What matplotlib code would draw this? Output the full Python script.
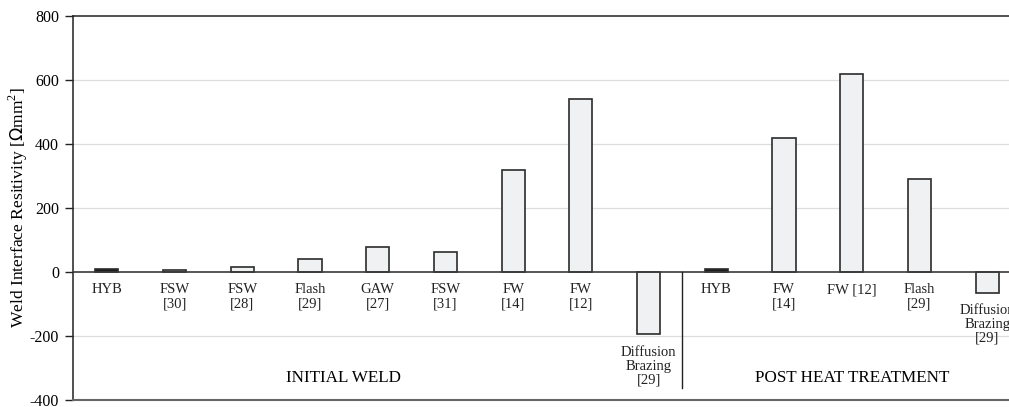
import numpy as np
import matplotlib.pyplot as plt

plt.rcParams['font.family'] = ['Liberation Serif', 'DejaVu Serif']
plt.rcParams['axes.unicode_minus'] = False

# Resistivity per weld method, initial weld then after heat treatment
labels_initial = ['HYB', 'FSW\n[30]', 'FSW\n[28]', 'Flash\n[29]', 'GAW\n[27]',
                  'FSW\n[31]', 'FW\n[14]', 'FW\n[12]', 'Diffusion\nBrazing\n[29]']
values_initial = [10, 5, 17, 40, 77, 62, 320, 540, -195]

labels_post = ['HYB', 'FW\n[14]', 'FW [12]', 'Flash\n[29]', 'Diffusion\nBrazing\n[29]']
values_post = [10, 420, 620, 290, -65]

group_names = ['INITIAL WELD', 'POST HEAT TREATMENT']

labels = labels_initial + labels_post
values = values_initial + values_post
x = np.arange(len(values))

# HYB bars are drawn solid
faces = ['#1c1c1c' if l == 'HYB' else '#f0f1f3' for l in labels]

fig = plt.figure(figsize=(10.09, 4.07), dpi=100)
ax = fig.add_axes([73 / 1009, 7 / 407, 948 / 1009, 384 / 407])

ax.bar(x, values, width=0.34, color=faces, edgecolor='#2b2b2b', linewidth=1.2, zorder=3)

ax.set_xlim(-0.5, len(values) - 0.5)
ax.set_ylim(-400, 800)
ax.set_yticks(range(-400, 801, 200))
for g in [-200, 200, 400, 600]:
    ax.axhline(g, color='#dddddd', linewidth=0.9, zorder=1)
ax.axhline(0, color='#3a3a3a', linewidth=1.2, zorder=4)

ax.set_xticks([])
ax.tick_params(axis='y', labelsize=11.5, length=6, width=1, color='#222222', pad=4)
ax.set_ylabel('Weld Interface Resitivity [$\\Omega$mm$^\\mathregular{2}$]', fontsize=12.6, va='center')
ax.yaxis.set_label_coords(-55 / 948, 0.5)

for side in ['top', 'left']:
    ax.spines[side].set_color('#222222')
    ax.spines[side].set_linewidth(1.1)
ax.spines['bottom'].set_color('#666666')
ax.spines['bottom'].set_linewidth(1.5)
ax.spines['right'].set_visible(False)

# category labels under the zero line, or under the end of a negative bar
for xi, v, lab in zip(x, values, labels):
    base = min(v, 0)
    ax.annotate(lab, xy=(xi, base), xytext=(0, -8), textcoords='offset points',
                ha='center', va='top', fontsize=10.5, linespacing=1.1, color='#222222')

# split between the two groups
n_init = len(values_initial)
ax.plot([n_init - 0.5, n_init - 0.5], [0, -362], color='#222222', linewidth=1.0, zorder=4)

ax.text((n_init - 1) / 2 - 0.5, -330, group_names[0], ha='center', va='center', fontsize=12.3)
ax.text(n_init + (len(values_post) - 1) / 2, -330, group_names[1], ha='center', va='center', fontsize=12.3)

fig.savefig('out.png', dpi=100)
